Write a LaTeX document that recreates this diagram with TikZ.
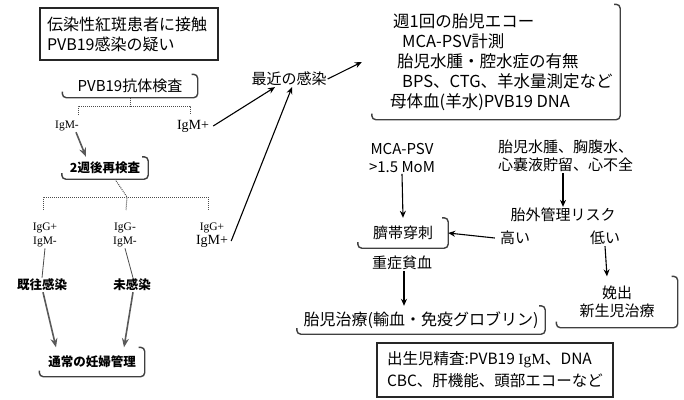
\documentclass[tikz,border=0pt]{standalone}
\usepackage{fontspec}
\setmainfont{Noto Sans CJK JP}
\newfontfamily\igfont{Liberation Serif}
\usetikzlibrary{arrows.meta}
\tikzset{
 jt/.style={font=\fontsize{15}{18}\selectfont, inner sep=1pt},
 jb/.style={font=\fontsize{12.5}{15}\selectfont\bfseries, inner sep=1pt},
 fullbox/.style={draw=black!85, line width=1.6pt},
 shbox/.style={inner sep=2pt},
 arr/.style={-{Stealth[length=7pt,width=6pt]}, line width=1.1pt},
 garr/.style={-{Stealth[length=9pt,width=7pt]}, line width=1.6pt, black!65},
 brk/.style={line width=1pt, black!70, densely dotted},
 thinl/.style={line width=0.8pt, black!70},
 ig/.style={font=\igfont\fontsize{11.5}{14}\selectfont, align=center, inner sep=1pt},
 shadowedge/.style={line width=1.4pt, black!75, rounded corners=4pt},
}
\newcommand{\shL}[1]{\draw[shadowedge] ([xshift=-6pt]#1.north east) -- (#1.north east) -- (#1.south east) -- (#1.south west) -- ([yshift=6pt]#1.south west);}
\begin{document}
\begin{tikzpicture}[x=1pt,y=-1pt]
\useasboundingbox (0,0) rectangle (684,399);
% left column
\node[fullbox, minimum width=178pt, minimum height=52pt, text width=164pt, align=left, inner xsep=6pt, font=\fontsize{16}{20}\selectfont] (contact) at (129,34) {伝染性紅斑患者に接触\\PVB19感染の疑い};
\node[shbox, minimum width=135pt, minimum height=23pt, font=\fontsize{15}{18}\selectfont] (abtest) at (130,86) {PVB19抗体検査};
\shL{abtest}
\coordinate (b1) at (130,106);
\coordinate (bl) at (78,115);
\coordinate (br) at (190,115);
\draw[brk] (abtest.south) -- (b1);
\draw[brk] (bl) |- (b1) -| (br);
\node[ig] (igmneg) at (67,126) {IgM-};
\node[ig, font=\igfont\fontsize{14}{16}\selectfont] (igmpos) at (193,126) {IgM+};
\node[shbox, minimum width=86pt, minimum height=22pt, jb] (retest) at (105,168) {2週後再検査};
\shL{retest}
\draw[garr] ([xshift=9pt]igmneg.south) -- ([xshift=-19pt]retest.north);
\coordinate (b2) at (127,197);
\coordinate (b2l) at (43,210);
\coordinate (b2m) at (126,210);
\coordinate (b2r) at (208,210);
\draw[brk] ([xshift=10pt]retest.south) -- (b2) -- (b2m);
\draw[brk] (b2l) |- (b2) -| (b2r);
\node[ig] (g1) at (45,235) {IgG+\\IgM-};
\node[ig] (g2) at (125,235) {IgG-\\IgM-};
\node[ig] (g3) at (212,235) {IgG+\\{\fontsize{14}{16}\selectfont IgM+}};
\node[jb] (past) at (42,285) {既往感染};
\node[jb] (never) at (132,285) {未感染};
\draw[thinl] (g1.south) -- (past.north);
\draw[thinl] (g2.south) -- ([xshift=1pt]never.north);
\node[shbox, minimum width=105pt, minimum height=29pt, jb] (normal) at (92,362) {通常の妊婦管理};
\shL{normal}
\draw[garr] ([xshift=1pt]past.south) -- ([xshift=-36pt]normal.north);
\draw[garr] ([xshift=1pt]never.south) -- ([xshift=32pt]normal.north);
% middle
\node[jt] (recent) at (289,79) {最近の感染};
\draw[arr] ([xshift=3pt]igmpos.east) -- ([xshift=-14pt]recent.south);
\draw[arr] ([xshift=2pt,yshift=-6pt]g3.east) -- ([xshift=3pt]recent.south);
\node[shbox, minimum width=248pt, minimum height=115pt] (echo) at (496,62) {};
\shL{echo}
\node[font=\fontsize{16.5}{20}\selectfont, align=left, inner sep=0pt, anchor=north west] (echotxt) at (390,13) {\hspace*{3pt}週1回の胎児エコー\\\hspace*{12pt}MCA-PSV計測\\\hspace*{7pt}胎児水腫・腔水症の有無\\\hspace*{12pt}BPS、CTG、羊水量測定など\\母体血(羊水)PVB19 DNA};
\draw[arr] (recent.east) -- ([xshift=-10pt]echo.west);
% right lower
\node[jt, align=center] (mca) at (402,158) {MCA-PSV\\>1.5 MoM};
\node[shbox, minimum width=90pt, minimum height=30pt, jt] (punct) at (403,233) {臍帯穿刺};
\shL{punct}
\draw[arr] (mca.south) -- (punct.north);
\node[jt] (anemia) at (402,263) {重症貧血};
\node[shbox, minimum width=248pt, minimum height=28pt, font=\fontsize{16}{18}\selectfont] (therapy) at (421,320) {胎児治療(輸血・免疫グロブリン)};
\shL{therapy}
\draw[arr] ([xshift=2pt]anemia.south) -- ([xshift=-17pt]therapy.north);
\node[jt, align=left, anchor=west] (hydrops) at (497,156) {胎児水腫、胸腹水、\\心嚢液貯留、心不全};
\node[jt] (risk) at (563,215) {胎外管理リスク};
\draw[arr] ([xshift=66pt]hydrops.south west) -- (risk.north);
\node[jt] (high) at (515,238) {高い};
\node[jt] (low) at (605,238) {低い};
\draw[arr] ([xshift=-4pt]high.west) -- (punct.east);
\node[shbox, minimum width=121pt, minimum height=51pt, jt, align=center] (deliv) at (617,302) {娩出\\新生児治療};
\shL{deliv}
\draw[arr] (low.south) -- ([xshift=-10pt]deliv.north);
\node[fullbox, minimum width=236pt, minimum height=54pt, align=left, font=\fontsize{15.5}{22}\selectfont] (newborn) at (495,370) {出生児精査:PVB19 {\igfont IgM}、DNA\\CBC、肝機能、頭部エコーなど};
\end{tikzpicture}
\end{document}
